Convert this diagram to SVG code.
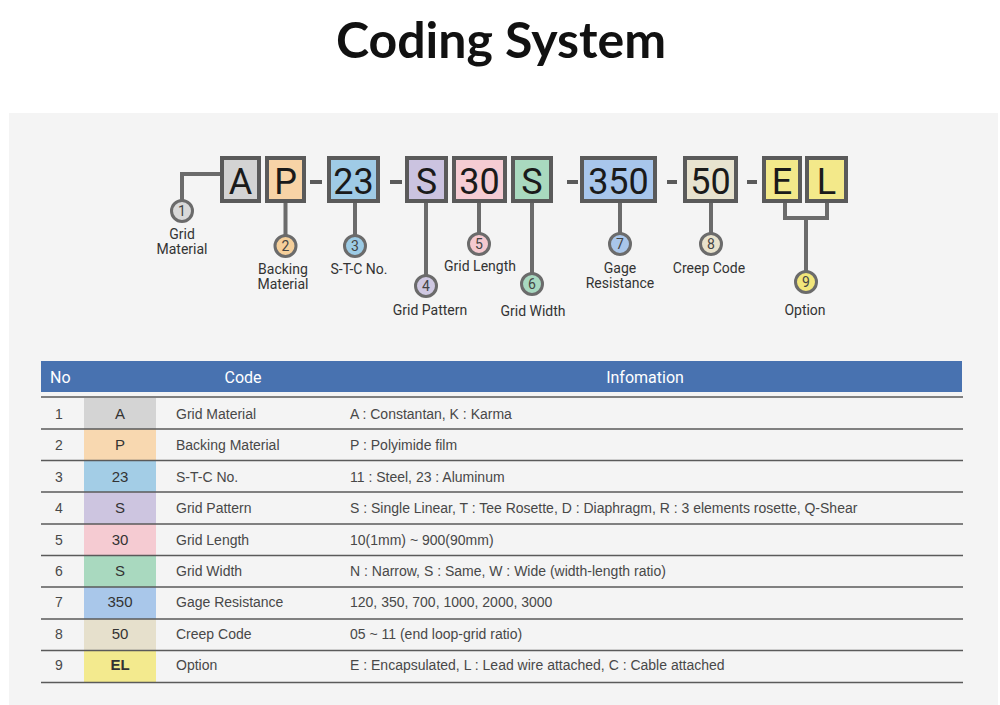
<svg xmlns="http://www.w3.org/2000/svg" width="1000" height="705" viewBox="0 0 1000 705">
<style>
.title{font-family:Lato,"Open Sans",sans-serif;font-weight:700;font-size:50px;fill:#111;}
.box{stroke:#5a5a5a;stroke-width:4;}
.big{font-family:Roboto,"DejaVu Sans",sans-serif;font-weight:400;font-size:36px;fill:#1a1a1a;text-anchor:middle;}
.dash{fill:#5a5a5a;}
.conn{fill:none;stroke:#6b6b6b;stroke-width:4;}
.circ{stroke:#6b6b6b;stroke-width:3;}
.num{font-family:Roboto,"DejaVu Sans",sans-serif;font-size:14px;fill:#444;text-anchor:middle;}
.lbl{font-family:Roboto,"DejaVu Sans",sans-serif;font-size:14px;fill:#333;text-anchor:middle;}
.hd{font-family:Roboto,"Liberation Sans",sans-serif;font-weight:400;font-size:16px;fill:#fff;}
.cell{font-family:"Liberation Sans",Arial,sans-serif;font-size:14px;fill:#484848;}
.code{font-family:"Liberation Sans",Arial,sans-serif;font-size:15px;fill:#333;text-anchor:middle;}
.rl{stroke:#5a5a5a;stroke-width:1.6;}
</style>
<rect x="0" y="0" width="1000" height="705" fill="#ffffff"/>
<rect x="9" y="113" width="989" height="592" fill="#f4f4f4"/>
<text class="title" x="501" y="58" text-anchor="middle">Coding System</text>

<g id="code-boxes">
  <g id="box-A"><rect class="box" x="222" y="158" width="37" height="43" fill="#d3d3d3"/><text class="big" x="240.5" y="194">A</text></g>
  <g id="box-P"><rect class="box" x="267" y="158" width="37" height="43" fill="#f7d3a6"/><text class="big" x="285.5" y="194">P</text></g>
  <rect class="dash" x="310" y="180" width="12" height="4"/>
  <g id="box-23"><rect class="box" x="329" y="158" width="49" height="43" fill="#9fcbe6"/><text class="big" x="353.5" y="194">23</text></g>
  <rect class="dash" x="390" y="180" width="12" height="4"/>
  <g id="box-S1"><rect class="box" x="407" y="158" width="39" height="43" fill="#cbc3e0"/><text class="big" x="426.5" y="194">S</text></g>
  <g id="box-30"><rect class="box" x="454" y="158" width="51" height="43" fill="#f5ccd3"/><text class="big" x="479.5" y="194">30</text></g>
  <g id="box-S2"><rect class="box" x="513" y="158" width="38" height="43" fill="#a9d9bf"/><text class="big" x="532" y="194">S</text></g>
  <rect class="dash" x="567" y="180" width="11" height="4"/>
  <g id="box-350"><rect class="box" x="582" y="158" width="73" height="43" fill="#a8c6ec"/><text class="big" x="618.5" y="194">350</text></g>
  <rect class="dash" x="667" y="180" width="10" height="4"/>
  <g id="box-50"><rect class="box" x="685" y="158" width="51" height="43" fill="#e8e3cf"/><text class="big" x="710.5" y="194">50</text></g>
  <rect class="dash" x="747" y="180" width="10" height="4"/>
  <g id="box-E"><rect class="box" x="764" y="158" width="36" height="43" fill="#f3e98a"/><text class="big" x="782" y="194">E</text></g>
  <g id="box-L"><rect class="box" x="807" y="158" width="39" height="43" fill="#f3e98a"/><text class="big" x="826.5" y="194">L</text></g>
</g>

<g id="connectors">
  <path class="conn" d="M220,174 H182 V200"/>
  <path class="conn" d="M285.5,203 V235"/>
  <path class="conn" d="M355,203 V235"/>
  <path class="conn" d="M426,203 V275"/>
  <path class="conn" d="M479,203 V233"/>
  <path class="conn" d="M532,203 V273"/>
  <path class="conn" d="M620,203 V233"/>
  <path class="conn" d="M711,203 V233"/>
  <path class="conn" d="M785,203 V218 H827 V203"/>
  <path class="conn" d="M806,218 V271"/>
</g>

<g id="node-1"><circle class="circ" cx="182" cy="211" r="10.5" fill="#d9d9d9"/><text class="num" x="182" y="216">1</text><text class="lbl" x="182" y="239">Grid</text><text class="lbl" x="182" y="254">Material</text></g>
<g id="node-2"><circle class="circ" cx="285.5" cy="246" r="10.5" fill="#f5cf9a"/><text class="num" x="285.5" y="251">2</text><text class="lbl" x="283" y="274">Backing</text><text class="lbl" x="283" y="289">Material</text></g>
<g id="node-3"><circle class="circ" cx="355" cy="246" r="10.5" fill="#9ccbe5"/><text class="num" x="355" y="251">3</text><text class="lbl" x="359" y="274">S-T-C No.</text></g>
<g id="node-4"><circle class="circ" cx="426" cy="286" r="10.5" fill="#cfc8e2"/><text class="num" x="426" y="291">4</text><text class="lbl" x="430" y="315">Grid Pattern</text></g>
<g id="node-5"><circle class="circ" cx="479" cy="244" r="10.5" fill="#f5c9cf"/><text class="num" x="479" y="249">5</text><text class="lbl" x="480" y="271">Grid Length</text></g>
<g id="node-6"><circle class="circ" cx="532" cy="284" r="10.5" fill="#a8d8c0"/><text class="num" x="532" y="289">6</text><text class="lbl" x="533" y="316">Grid Width</text></g>
<g id="node-7"><circle class="circ" cx="620" cy="244" r="10.5" fill="#a9c6ea"/><text class="num" x="620" y="249">7</text><text class="lbl" x="620" y="273">Gage</text><text class="lbl" x="620" y="288">Resistance</text></g>
<g id="node-8"><circle class="circ" cx="711" cy="244" r="10.5" fill="#e8e2cc"/><text class="num" x="711" y="249">8</text><text class="lbl" x="709" y="273">Creep Code</text></g>
<g id="node-9"><circle class="circ" cx="806" cy="282" r="10.5" fill="#f2e67a"/><text class="num" x="806" y="287">9</text><text class="lbl" x="805" y="315">Option</text></g>

<g id="table">
  <rect x="41" y="361" width="921" height="31" fill="#4872b0"/>
  <text class="hd" x="50" y="383" font-weight="500">No</text>
  <text class="hd" x="243" y="383" text-anchor="middle">Code</text>
  <text class="hd" x="645" y="383" text-anchor="middle">Infomation</text>

  <rect x="84" y="398" width="72" height="31" fill="#d4d4d4"/>
  <rect x="84" y="429" width="72" height="31.5" fill="#f8d8b0"/>
  <rect x="84" y="460.5" width="72" height="31.5" fill="#a3cde6"/>
  <rect x="84" y="492" width="72" height="32" fill="#cdc5e0"/>
  <rect x="84" y="524" width="72" height="31.5" fill="#f5cbd2"/>
  <rect x="84" y="555.5" width="72" height="31.5" fill="#a9d9bf"/>
  <rect x="84" y="587" width="72" height="32" fill="#a9c7ea"/>
  <rect x="84" y="619" width="72" height="31.5" fill="#e6e0cc"/>
  <rect x="84" y="650.5" width="72" height="32" fill="#f3ea8e"/>

  <g id="row-lines">
    <line class="rl" x1="41" y1="397" x2="963" y2="397" stroke-width="2"/>
    <line class="rl" x1="41" y1="429" x2="963" y2="429"/>
    <line class="rl" x1="41" y1="460.5" x2="963" y2="460.5"/>
    <line class="rl" x1="41" y1="492" x2="963" y2="492"/>
    <line class="rl" x1="41" y1="524" x2="963" y2="524"/>
    <line class="rl" x1="41" y1="555.5" x2="963" y2="555.5"/>
    <line class="rl" x1="41" y1="587" x2="963" y2="587"/>
    <line class="rl" x1="41" y1="619" x2="963" y2="619"/>
    <line class="rl" x1="41" y1="650.5" x2="963" y2="650.5"/>
    <line class="rl" x1="41" y1="682.5" x2="963" y2="682.5"/>
  </g>

  <g id="row-1"><text class="cell" x="55" y="419">1</text><text class="code" x="120" y="419">A</text><text class="cell" x="176" y="419">Grid Material</text><text class="cell" x="350" y="419">A : Constantan, K : Karma</text></g>
  <g id="row-2"><text class="cell" x="55" y="450">2</text><text class="code" x="120" y="450">P</text><text class="cell" x="176" y="450">Backing Material</text><text class="cell" x="350" y="450">P : Polyimide film</text></g>
  <g id="row-3"><text class="cell" x="55" y="482">3</text><text class="code" x="120" y="482">23</text><text class="cell" x="176" y="482">S-T-C No.</text><text class="cell" x="350" y="482">11 : Steel, 23 : Aluminum</text></g>
  <g id="row-4"><text class="cell" x="55" y="513">4</text><text class="code" x="120" y="513">S</text><text class="cell" x="176" y="513">Grid Pattern</text><text class="cell" x="350" y="513">S : Single Linear, T : Tee Rosette, D : Diaphragm, R : 3 elements rosette, Q-Shear</text></g>
  <g id="row-5"><text class="cell" x="55" y="545">5</text><text class="code" x="120" y="545">30</text><text class="cell" x="176" y="545">Grid Length</text><text class="cell" x="350" y="545">10(1mm) ~ 900(90mm)</text></g>
  <g id="row-6"><text class="cell" x="55" y="576">6</text><text class="code" x="120" y="576">S</text><text class="cell" x="176" y="576">Grid Width</text><text class="cell" x="350" y="576">N : Narrow, S : Same, W : Wide (width-length ratio)</text></g>
  <g id="row-7"><text class="cell" x="55" y="607">7</text><text class="code" x="120" y="607">350</text><text class="cell" x="176" y="607">Gage Resistance</text><text class="cell" x="350" y="607">120, 350, 700, 1000, 2000, 3000</text></g>
  <g id="row-8"><text class="cell" x="55" y="639">8</text><text class="code" x="120" y="639">50</text><text class="cell" x="176" y="639">Creep Code</text><text class="cell" x="350" y="639">05 ~ 11 (end loop-grid ratio)</text></g>
  <g id="row-9"><text class="cell" x="55" y="670">9</text><text class="code" x="120" y="670" font-weight="700">EL</text><text class="cell" x="176" y="670">Option</text><text class="cell" x="350" y="670">E : Encapsulated, L : Lead wire attached, C : Cable attached</text></g>
</g>
</svg>
